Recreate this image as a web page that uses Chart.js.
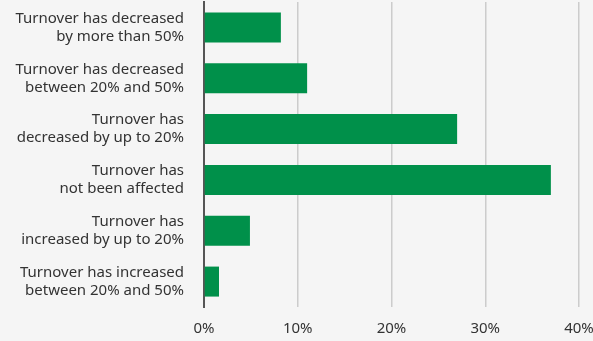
<!DOCTYPE html>
<html>
<head>
<meta charset="utf-8">
<script src="https://cdn.jsdelivr.net/npm/chart.js@4/dist/chart.umd.min.js"></script>
<style>
  html, body { margin: 0; padding: 0; background: #f5f5f5; }
  #wrap { width: 593px; height: 341px; position: relative; }
</style>
</head>
<body>
<div id="wrap"><canvas id="turnoverChart"></canvas></div>
<script>
// --- Data ---
const categories = [
    ['Turnover has decreased', 'by more than 50%'],
    ['Turnover has decreased', 'between 20% and 50%'],
    ['Turnover has', 'decreased by up to 20%'],
    ['Turnover has', 'not been affected'],
    ['Turnover has', 'increased by up to 20%'],
    ['Turnover has increased', 'between 20% and 50%']
];
const shares = [8.2, 11.0, 27.0, 37.0, 4.9, 1.6];
const xTicks = [0, 10, 20, 30, 40];

const textColor = '#333333';
const barColor = '#00904a';

new Chart(document.getElementById('turnoverChart'), {
    type: 'bar',
    data: {
        labels: categories,
        datasets: [{
            data: shares,
            backgroundColor: barColor,
            borderWidth: 0,
            barPercentage: 0.59,
            categoryPercentage: 1
        }]
    },
    options: {
        indexAxis: 'y',
        responsive: true,
        maintainAspectRatio: false,
        animation: false,
        layout: { padding: { top: 2, left: 0, right: 0, bottom: 0 } },
        plugins: {
            legend: { display: false },
            tooltip: { enabled: false }
        },
        scales: {
            x: {
                min: 0,
                max: 40,
                afterBuildTicks: (scale) => { scale.ticks = xTicks.map(v => ({ value: v })); },
                afterFit: (scale) => {
                    scale.height = 34;
                    scale.paddingLeft = 0;
                    scale.paddingRight = 14;
                },
                grid: { color: '#cccccc', lineWidth: 1.5, drawTicks: false },
                border: { display: false },
                ticks: {
                    color: textColor,
                    padding: 13,
                    font: { family: 'Noto Sans', size: 15 },
                    callback: (v) => v + '%'
                }
            },
            y: {
                grid: { display: false, drawTicks: false },
                border: { color: '#555555', width: 2 },
                afterFit: (scale) => {
                    scale.width = 204;
                    scale.paddingTop = 0;
                    scale.paddingBottom = 0;
                },
                ticks: {
                    color: textColor,
                    padding: 20,
                    font: { family: 'Noto Sans', size: 15, lineHeight: 1.2 }
                }
            }
        }
    }
});
</script>
</body>
</html>
